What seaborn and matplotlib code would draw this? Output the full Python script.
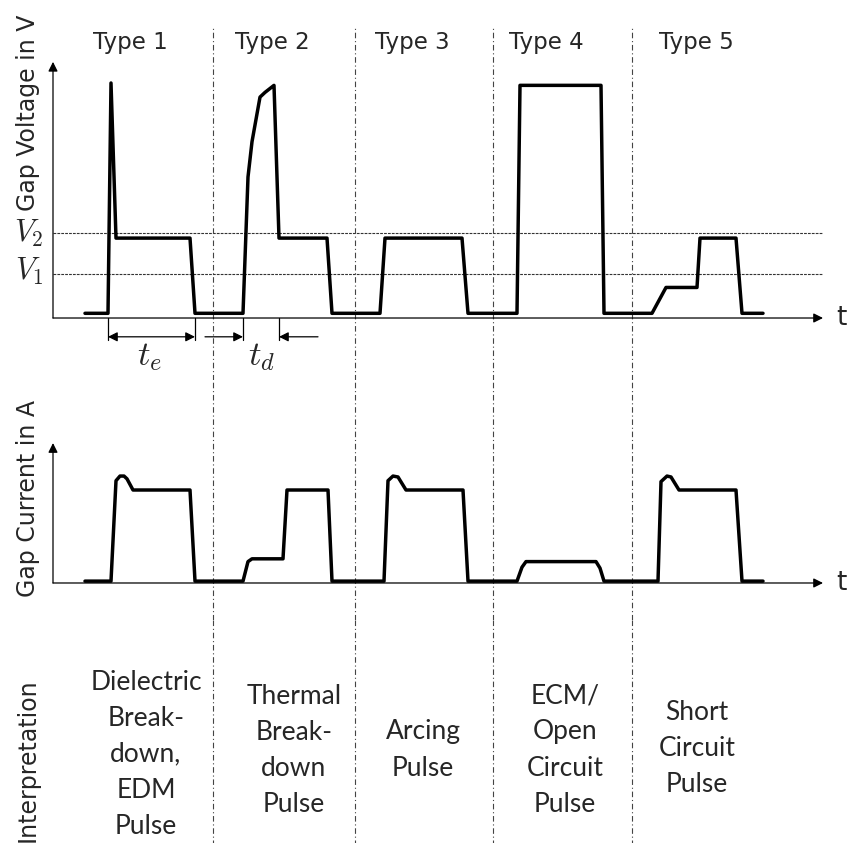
import numpy as np
import pandas as pd
import matplotlib.pyplot as plt
import seaborn as sns

# waveform data (t in arbitrary units, voltage / current normalised)
t_volt = [32, 55, 58, 63, 137, 142, 190, 195, 199, 207, 212, 221, 226, 274, 279,
          327, 332, 409, 415, 464, 467, 548, 551, 599, 613, 644, 647, 683, 689, 710]
v_gap = [0.02, 0.02, 1.0, 0.34, 0.34, 0.02, 0.02, 0.60, 0.75, 0.94, 0.96, 0.99, 0.34, 0.34, 0.02,
         0.02, 0.34, 0.34, 0.02, 0.02, 0.99, 0.99, 0.02, 0.02, 0.13, 0.13, 0.34, 0.34, 0.02, 0.02]

t_cur = [32, 58, 63, 67, 71, 74, 80, 137, 142, 190, 195, 199, 230, 234, 275, 279,
         331, 335, 340, 345, 353, 410, 415, 464, 469, 473, 543, 547, 551,
         605, 608, 614, 618, 626, 683, 689, 710]
i_gap = [0.02, 0.02, 1.10, 1.15, 1.15, 1.12, 1.0, 1.0, 0.02, 0.02, 0.23, 0.26, 0.26, 1.0, 1.0, 0.02,
         0.02, 1.10, 1.15, 1.14, 1.0, 1.0, 0.02, 0.02, 0.17, 0.23, 0.23, 0.16, 0.02,
         0.02, 1.09, 1.15, 1.14, 1.0, 1.0, 0.02, 0.02]

v1_level = 0.187
v2_level = 0.362
separators = [160, 302, 440, 579]
type_labels = ['Type 1', 'Type 2', 'Type 3', 'Type 4', 'Type 5']
type_pos = [77, 219, 359, 493, 643]
interpretations = ['Dielectric\nBreak-\ndown,\nEDM\nPulse',
                   'Thermal\nBreak-\ndown\nPulse',
                   'Arcing\nPulse',
                   'ECM/\nOpen\nCircuit\nPulse',
                   'Short\nCircuit\nPulse']
interp_pos = [93, 241, 370, 512, 644]
interp_y = [754, 750, 750, 750, 749]

sns.set_style('white')
plt.rcParams['font.family'] = ['DejaVu Sans']
plt.rcParams['mathtext.fontset'] = 'cm'

fig = plt.figure(figsize=(8.56, 8.43), dpi=100)
ax_v = fig.add_axes([0, 463 / 843, 1, 380 / 843])
ax_i = fig.add_axes([0, 223 / 843, 1, 240 / 843])
ax_t = fig.add_axes([0, 0, 1, 223 / 843])

ax_v.set_ylim(-0.2638, 1.3532)
ax_i.set_ylim(-0.398, 2.183)
ax_t.set_ylim(843, 620)
for ax in (ax_v, ax_i, ax_t):
    ax.set_xlim(-53, 803)
    ax.axis('off')

df_v = pd.DataFrame({'t': t_volt, 'v': v_gap})
df_i = pd.DataFrame({'t': t_cur, 'i': i_gap})
sns.lineplot(data=df_v, x='t', y='v', sort=False, estimator=None, color='black',
             lw=2.5, ax=ax_v, zorder=5)
sns.lineplot(data=df_i, x='t', y='i', sort=False, estimator=None, color='black',
             lw=2.5, ax=ax_i, zorder=5)

arrow = dict(arrowstyle='-|>', color='black', lw=0.9, mutation_scale=14, shrinkA=0, shrinkB=0)
ax_v.annotate('', xy=(770, 0), xytext=(0, 0), arrowprops=arrow)
ax_v.annotate('', xy=(0, 1.09), xytext=(0, 0), arrowprops=arrow)
ax_i.annotate('', xy=(770, 0), xytext=(0, 0), arrowprops=arrow)
ax_i.annotate('', xy=(0, 1.505), xytext=(0, 0), arrowprops=arrow)

# threshold lines
for lvl in (v1_level, v2_level):
    ax_v.plot([0, 770], [lvl, lvl], color='#333333', lw=0.8, ls=(0, (2.5, 1)))

# separators
sep_ls = (0, (5, 2.5, 1, 2.5))
for x in separators:
    ax_v.plot([x, x], [-0.2638, 1.238], color='#444444', lw=0.8, ls=sep_ls)
    ax_i.plot([x, x], [-0.398, 2.183], color='#444444', lw=0.8, ls=sep_ls)
    ax_t.plot([x, x], [620, 843], color='#444444', lw=0.8, ls=sep_ls)

for lab, x in zip(type_labels, type_pos):
    ax_v.text(x, 1.174, lab, ha='center', va='center', fontsize=16.5)

ax_v.text(-25, 0.872, 'Gap Voltage in V', rotation=90, ha='center', va='center', fontsize=17)
ax_i.text(-25, 0.914, 'Gap Current in A', rotation=90, ha='center', va='center', fontsize=17)
ax_v.text(-24, v2_level, r'$V_2$', ha='center', va='center', fontsize=22)
ax_v.text(-24, v1_level + 0.01, r'$V_1$', ha='center', va='center', fontsize=22)
ax_v.text(788, 0, 't', ha='center', va='center', fontsize=19)
ax_i.text(788, 0, 't', ha='center', va='center', fontsize=19)

# time annotations
dim = -0.08
for x in (55, 142, 190, 226):
    ax_v.plot([x, x], [0, -0.095], color='black', lw=0.9)
ax_v.annotate('', xy=(55, dim), xytext=(142, dim),
              arrowprops=dict(arrowstyle='<|-|>', color='black', lw=0.9, mutation_scale=14,
                              shrinkA=0, shrinkB=0))
ax_v.annotate('', xy=(190, dim), xytext=(152, dim), arrowprops=arrow)
ax_v.annotate('', xy=(226, dim), xytext=(265, dim), arrowprops=arrow)
ax_v.text(97, -0.16, r'$t_e$', ha='center', va='center', fontsize=25)
ax_v.text(209, -0.16, r'$t_d$', ha='center', va='center', fontsize=25)

ax_t.text(-25, 760, 'Interpretation', rotation=90, ha='center', va='center', fontsize=17)
for lab, x, y in zip(interpretations, interp_pos, interp_y):
    ax_t.text(x, y, lab, ha='center', va='center', fontsize=19, family='Lato',
              linespacing=1.55)

fig.savefig('out.png', dpi=100)
